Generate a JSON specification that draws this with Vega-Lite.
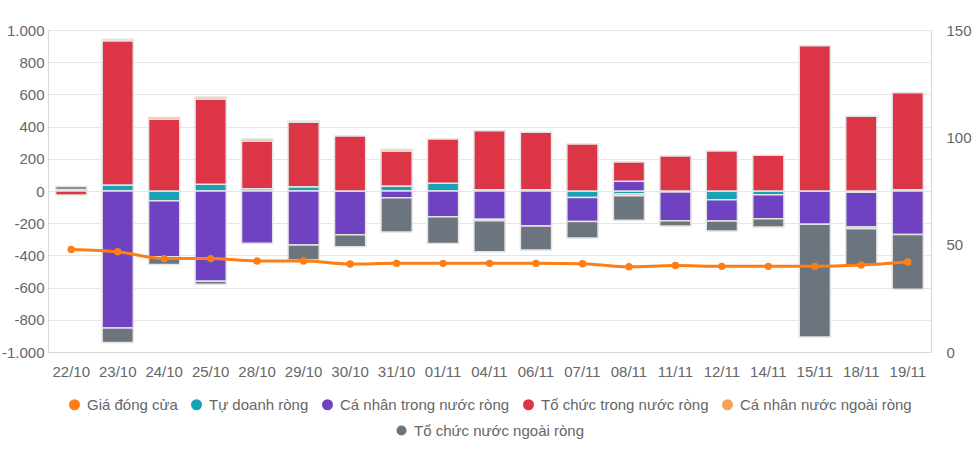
{
  "$schema": "https://vega.github.io/schema/vega-lite/v6.json",
  "width": 883,
  "height": 322,
  "autosize": {"type": "none"},
  "padding": {"left": 48, "top": 30, "right": 49, "bottom": 98},
  "background": "white",
  "config": {
    "font": "Liberation Sans",
    "view": {"stroke": null},
    "axis": {"labelFont": "Liberation Sans", "labelFontSize": 15, "labelColor": "#666666", "ticks": false, "domainColor": "#d9d9d9", "gridColor": "#e6e6e6", "title": null},
    "legend": {"labelFont": "Liberation Sans", "labelFontSize": 15, "labelColor": "#666666", "labelLimit": 300, "labelOffset": 5, "layout": {"bottom": {"anchor": "middle", "direction": "vertical", "center": true, "margin": 8}}}
  },
  "datasets": {
    "flows": [
      {"date": "22/10", "series": "Tự doanh ròng", "k": 1, "value": 10},
      {"date": "22/10", "series": "Tổ chức trong nước ròng", "k": 3, "value": -25},
      {"date": "22/10", "series": "Tổ chức nước ngoài ròng", "k": 5, "value": 18},
      {"date": "23/10", "series": "Tự doanh ròng", "k": 1, "value": 37},
      {"date": "23/10", "series": "Cá nhân trong nước ròng", "k": 2, "value": -851},
      {"date": "23/10", "series": "Tổ chức trong nước ròng", "k": 3, "value": 896},
      {"date": "23/10", "series": "Cá nhân nước ngoài ròng", "k": 4, "value": 10},
      {"date": "23/10", "series": "Tổ chức nước ngoài ròng", "k": 5, "value": -90},
      {"date": "24/10", "series": "Tự doanh ròng", "k": 1, "value": -60},
      {"date": "24/10", "series": "Cá nhân trong nước ròng", "k": 2, "value": -349},
      {"date": "24/10", "series": "Tổ chức trong nước ròng", "k": 3, "value": 446},
      {"date": "24/10", "series": "Cá nhân nước ngoài ròng", "k": 4, "value": 12},
      {"date": "24/10", "series": "Tổ chức nước ngoài ròng", "k": 5, "value": -47},
      {"date": "25/10", "series": "Tự doanh ròng", "k": 1, "value": 42},
      {"date": "25/10", "series": "Cá nhân trong nước ròng", "k": 2, "value": -560},
      {"date": "25/10", "series": "Tổ chức trong nước ròng", "k": 3, "value": 530},
      {"date": "25/10", "series": "Cá nhân nước ngoài ròng", "k": 4, "value": 12},
      {"date": "25/10", "series": "Tổ chức nước ngoài ròng", "k": 5, "value": -19},
      {"date": "28/10", "series": "Tự doanh ròng", "k": 1, "value": 14},
      {"date": "28/10", "series": "Cá nhân trong nước ròng", "k": 2, "value": -325},
      {"date": "28/10", "series": "Tổ chức trong nước ròng", "k": 3, "value": 297},
      {"date": "28/10", "series": "Cá nhân nước ngoài ròng", "k": 4, "value": 12},
      {"date": "29/10", "series": "Tự doanh ròng", "k": 1, "value": 27},
      {"date": "29/10", "series": "Cá nhân trong nước ròng", "k": 2, "value": -336},
      {"date": "29/10", "series": "Tổ chức trong nước ròng", "k": 3, "value": 400},
      {"date": "29/10", "series": "Cá nhân nước ngoài ròng", "k": 4, "value": 8},
      {"date": "29/10", "series": "Tổ chức nước ngoài ròng", "k": 5, "value": -93},
      {"date": "30/10", "series": "Cá nhân trong nước ròng", "k": 2, "value": -272},
      {"date": "30/10", "series": "Tổ chức trong nước ròng", "k": 3, "value": 342},
      {"date": "30/10", "series": "Tổ chức nước ngoài ròng", "k": 5, "value": -74},
      {"date": "31/10", "series": "Tự doanh ròng", "k": 1, "value": 31},
      {"date": "31/10", "series": "Cá nhân trong nước ròng", "k": 2, "value": -42},
      {"date": "31/10", "series": "Tổ chức trong nước ròng", "k": 3, "value": 218},
      {"date": "31/10", "series": "Cá nhân nước ngoài ròng", "k": 4, "value": 10},
      {"date": "31/10", "series": "Tổ chức nước ngoài ròng", "k": 5, "value": -213},
      {"date": "01/11", "series": "Tự doanh ròng", "k": 1, "value": 48},
      {"date": "01/11", "series": "Cá nhân trong nước ròng", "k": 2, "value": -160},
      {"date": "01/11", "series": "Tổ chức trong nước ròng", "k": 3, "value": 275},
      {"date": "01/11", "series": "Tổ chức nước ngoài ròng", "k": 5, "value": -166},
      {"date": "04/11", "series": "Tự doanh ròng", "k": 1, "value": 8},
      {"date": "04/11", "series": "Cá nhân trong nước ròng", "k": 2, "value": -176},
      {"date": "04/11", "series": "Tổ chức trong nước ròng", "k": 3, "value": 367},
      {"date": "04/11", "series": "Cá nhân nước ngoài ròng", "k": 4, "value": -9},
      {"date": "04/11", "series": "Tổ chức nước ngoài ròng", "k": 5, "value": -193},
      {"date": "06/11", "series": "Tự doanh ròng", "k": 1, "value": 8},
      {"date": "06/11", "series": "Cá nhân trong nước ròng", "k": 2, "value": -218},
      {"date": "06/11", "series": "Tổ chức trong nước ròng", "k": 3, "value": 357},
      {"date": "06/11", "series": "Tổ chức nước ngoài ròng", "k": 5, "value": -149},
      {"date": "07/11", "series": "Tự doanh ròng", "k": 1, "value": -40},
      {"date": "07/11", "series": "Cá nhân trong nước ròng", "k": 2, "value": -149},
      {"date": "07/11", "series": "Tổ chức trong nước ròng", "k": 3, "value": 292},
      {"date": "07/11", "series": "Tổ chức nước ngoài ròng", "k": 5, "value": -103},
      {"date": "08/11", "series": "Tự doanh ròng", "k": 1, "value": -18},
      {"date": "08/11", "series": "Cá nhân trong nước ròng", "k": 2, "value": 60},
      {"date": "08/11", "series": "Tổ chức trong nước ròng", "k": 3, "value": 120},
      {"date": "08/11", "series": "Cá nhân nước ngoài ròng", "k": 4, "value": -12},
      {"date": "08/11", "series": "Tổ chức nước ngoài ròng", "k": 5, "value": -152},
      {"date": "11/11", "series": "Tự doanh ròng", "k": 1, "value": -6},
      {"date": "11/11", "series": "Cá nhân trong nước ròng", "k": 2, "value": -179},
      {"date": "11/11", "series": "Tổ chức trong nước ròng", "k": 3, "value": 218},
      {"date": "11/11", "series": "Tổ chức nước ngoài ròng", "k": 5, "value": -33},
      {"date": "12/11", "series": "Tự doanh ròng", "k": 1, "value": -54},
      {"date": "12/11", "series": "Cá nhân trong nước ròng", "k": 2, "value": -133},
      {"date": "12/11", "series": "Tổ chức trong nước ròng", "k": 3, "value": 249},
      {"date": "12/11", "series": "Tổ chức nước ngoài ròng", "k": 5, "value": -62},
      {"date": "14/11", "series": "Tự doanh ròng", "k": 1, "value": -24},
      {"date": "14/11", "series": "Cá nhân trong nước ròng", "k": 2, "value": -148},
      {"date": "14/11", "series": "Tổ chức trong nước ròng", "k": 3, "value": 222},
      {"date": "14/11", "series": "Tổ chức nước ngoài ròng", "k": 5, "value": -52},
      {"date": "15/11", "series": "Cá nhân trong nước ròng", "k": 2, "value": -207},
      {"date": "15/11", "series": "Tổ chức trong nước ròng", "k": 3, "value": 902},
      {"date": "15/11", "series": "Tổ chức nước ngoài ròng", "k": 5, "value": -700},
      {"date": "18/11", "series": "Tự doanh ròng", "k": 1, "value": -7},
      {"date": "18/11", "series": "Cá nhân trong nước ròng", "k": 2, "value": -217},
      {"date": "18/11", "series": "Tổ chức trong nước ròng", "k": 3, "value": 465},
      {"date": "18/11", "series": "Cá nhân nước ngoài ròng", "k": 4, "value": -10},
      {"date": "18/11", "series": "Tổ chức nước ngoài ròng", "k": 5, "value": -228},
      {"date": "19/11", "series": "Tự doanh ròng", "k": 1, "value": 8},
      {"date": "19/11", "series": "Cá nhân trong nước ròng", "k": 2, "value": -270},
      {"date": "19/11", "series": "Tổ chức trong nước ròng", "k": 3, "value": 602},
      {"date": "19/11", "series": "Tổ chức nước ngoài ròng", "k": 5, "value": -340}
    ],
    "price": [
      {"date": "22/10", "price": 47.8},
      {"date": "23/10", "price": 46.7},
      {"date": "24/10", "price": 43.5},
      {"date": "25/10", "price": 43.5},
      {"date": "28/10", "price": 42.4},
      {"date": "29/10", "price": 42.4},
      {"date": "30/10", "price": 41.0},
      {"date": "31/10", "price": 41.3},
      {"date": "01/11", "price": 41.3},
      {"date": "04/11", "price": 41.3},
      {"date": "06/11", "price": 41.3},
      {"date": "07/11", "price": 41.1},
      {"date": "08/11", "price": 39.7},
      {"date": "11/11", "price": 40.3},
      {"date": "12/11", "price": 39.9},
      {"date": "14/11", "price": 39.9},
      {"date": "15/11", "price": 39.9},
      {"date": "18/11", "price": 40.5},
      {"date": "19/11", "price": 41.9}
    ]
  },
  "layer": [
    {
      "data": {"name": "flows"},
      "mark": {"type": "bar", "strokeWidth": 1.5},
      "encoding": {
        "x": {
          "field": "date", "type": "ordinal",
          "scale": {"domain": ["22/10","23/10","24/10","25/10","28/10","29/10","30/10","31/10","01/11","04/11","06/11","07/11","08/11","11/11","12/11","14/11","15/11","18/11","19/11"], "paddingInner": 0.33, "paddingOuter": 0.165},
          "axis": {"labelAngle": 0, "labelPadding": 12, "grid": false, "domain": true}
        },
        "y": {
          "aggregate": "sum", "field": "value", "type": "quantitative", "stack": "zero",
          "scale": {"domain": [-1000, 1000], "nice": false},
          "axis": {"values": [-1000,-800,-600,-400,-200,0,200,400,600,800,1000], "grid": true, "domain": true, "labelPadding": 4,
                   "labelExpr": "datum.value < 0 ? '-' + replace(format(-datum.value, ','), ',', '.') : replace(format(datum.value, ','), ',', '.')"}
        },
        "color": {
          "field": "series", "type": "nominal",
          "scale": {"domain": ["Giá đóng cửa","Tự doanh ròng","Cá nhân trong nước ròng","Tổ chức trong nước ròng","Cá nhân nước ngoài ròng","Tổ chức nước ngoài ròng"],
                    "range": ["#fd7e14","#17a2b8","#6f42c1","#dc3545","#f5a25d","#6c757d"]},
          "legend": {
            "orient": "bottom", "title": null, "direction": "horizontal", "columns": 5, "columnPadding": 8, "symbolType": "circle", "symbolSize": 64, "symbolStrokeWidth": 3,
            "values": ["Giá đóng cửa","Tự doanh ròng","Cá nhân trong nước ròng","Tổ chức trong nước ròng","Cá nhân nước ngoài ròng"],
            "encode": {"symbols": {"update": {
              "fill": {"value": {"expr": "datum.value === 'Giá đóng cửa' ? '#ffffff' : scale('color', datum.value)"}},
              "stroke": {"value": {"expr": "scale('color', datum.value)"}},
              "opacity": {"value": 1}
            }}}
          }
        },
        "stroke": {
          "field": "series", "type": "nominal",
          "scale": {"domain": ["Tự doanh ròng","Cá nhân trong nước ròng","Tổ chức trong nước ròng","Cá nhân nước ngoài ròng","Tổ chức nước ngoài ròng"],
                    "range": ["#e4e4e4","#e4e4e4","#e4e4e4","#e4e4e4","#e4e4e4"]},
          "legend": {
            "orient": "bottom", "title": null, "symbolType": "circle", "symbolSize": 100, "symbolFillColor": "#6c757d", "symbolStrokeWidth": 0,
            "values": ["Tổ chức nước ngoài ròng"]
          }
        },
        "order": {"field": "k", "type": "quantitative"}
      }
    },
    {
      "data": {"name": "price"},
      "encoding": {
        "x": {"field": "date", "type": "ordinal", "axis": {"labelAngle": 0, "labelPadding": 12, "grid": false, "domain": true}},
        "y": {
          "field": "price", "type": "quantitative",
          "scale": {"domain": [0, 150], "nice": false},
          "axis": {"orient": "right", "values": [0, 50, 100, 150], "grid": false, "domain": true, "labelPadding": 15}
        }
      },
      "layer": [
        {
          "mark": {"type": "line", "interpolate": "monotone", "strokeWidth": 3},
          "encoding": {"color": {"datum": "Giá đóng cửa", "type": "nominal"}}
        },
        {
          "mark": {"type": "point", "filled": true, "size": 55, "opacity": 1, "color": "#fd7e14"},
          "encoding": {}
        }
      ]
    }
  ],
  "resolve": {"scale": {"y": "independent"}}
}
